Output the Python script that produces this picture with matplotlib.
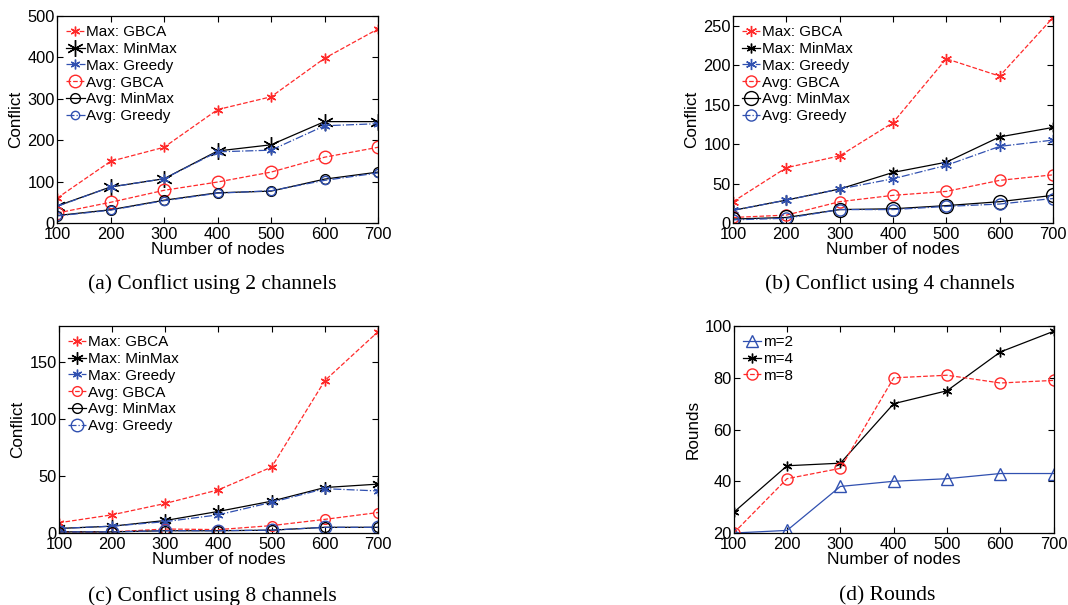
import numpy as np
import matplotlib
matplotlib.use("Agg")
import matplotlib.pyplot as plt

plt.rcParams['font.family'] = ['Liberation Sans', 'DejaVu Sans']
plt.rcParams['font.size'] = 11

nodes = [100, 200, 300, 400, 500, 600, 700]

# (a) 2 channels
a_max_gbca = [60, 149, 183, 274, 305, 398, 469]
a_max_minmax = [41, 87, 107, 174, 189, 245, 245]
a_max_greedy = [40, 87, 107, 172, 176, 235, 240]
a_avg_gbca = [24, 50, 79, 99, 123, 159, 183]
a_avg_minmax = [18, 32, 55, 73, 77, 106, 123]
a_avg_greedy = [17, 31, 54, 72, 78, 103, 121]

# (b) 4 channels
b_max_gbca = [27, 70, 85, 127, 208, 186, 260]
b_max_minmax = [16, 29, 43, 64, 77, 109, 121]
b_max_greedy = [16, 29, 43, 56, 73, 97, 105]
b_avg_gbca = [7, 10, 27, 35, 40, 54, 61]
b_avg_minmax = [5, 7, 17, 18, 22, 27, 35]
b_avg_greedy = [4, 6, 17, 17, 21, 24, 31]

# (c) 8 channels
c_max_gbca = [9, 16, 26, 38, 58, 134, 177]
c_max_minmax = [4, 6, 11, 19, 28, 40, 43]
c_max_greedy = [4, 6, 10, 16, 27, 39, 37]
c_avg_gbca = [1, 1, 3.5, 3, 6.5, 12, 18]
c_avg_minmax = [1, 1, 2, 2, 2.5, 5, 5]
c_avg_greedy = [1, 1, 2, 2, 2.5, 5, 5]

# (d) rounds
d_m2 = [20, 21, 38, 40, 41, 43, 43]
d_m4 = [28, 46, 47, 70, 75, 90, 98]
d_m8 = [20, 41, 45, 80, 81, 78, 79]

labels = ['Max: GBCA', 'Max: MinMax', 'Max: Greedy',
          'Avg: GBCA', 'Avg: MinMax', 'Avg: Greedy']

RED = '#ff2a2a'
BLUE = '#3050b0'
BLK = 'k'
AST = (6, 2, 0)


def conflict_panel(ax, series, sizes):
    styles = [(RED, '--', AST), (BLK, '-', AST), (BLUE, '-.', AST),
              (RED, '--', 'o'), (BLK, '-', 'o'), (BLUE, '-.', 'o')]
    for ys, (c, ls, m), ms, lab in zip(series, styles, sizes, labels):
        ax.plot(nodes, ys, color=c, ls=ls, marker=m, ms=ms, lw=0.9,
                mfc='none', mec=c, mew=1.0, label=lab)


def setting_axes(ax, ylim, yticks, ylabel):
    ax.set_xlim(100, 700)
    ax.set_ylim(*ylim)
    ax.set_xticks(nodes)
    ax.set_yticks(yticks)
    ax.tick_params(direction='in', top=True, right=True, length=4,
                   labelsize=11.8)
    ax.tick_params(axis='x', pad=3)
    ax.tick_params(axis='y', pad=1.5)
    ax.set_xlabel('Number of nodes', labelpad=0, fontsize=12.5)
    ax.set_ylabel(ylabel, labelpad=3, fontsize=12.3)
    for s in ax.spines.values():
        s.set_linewidth(0.9)
    ax.legend(loc='upper left', frameon=False, handlelength=1.2,
              handletextpad=0.1, labelspacing=0.18, borderaxespad=0.2,
              fontsize=11)


fig = plt.figure(figsize=(10.68, 6.05), dpi=100)

ax1 = fig.add_axes([0.0534, 0.6314, 0.3006, 0.342])
ax2 = fig.add_axes([0.6863, 0.6314, 0.2996, 0.342])
ax3 = fig.add_axes([0.0552, 0.119, 0.2987, 0.342])
ax4 = fig.add_axes([0.687, 0.119, 0.2996, 0.342])

conflict_panel(ax1, [a_max_gbca, a_max_minmax, a_max_greedy,
                     a_avg_gbca, a_avg_minmax, a_avg_greedy],
               [7, 12, 7, 9, 7, 6])
setting_axes(ax1, (0, 500), np.arange(0, 501, 100), 'Conflict')

conflict_panel(ax2, [b_max_gbca, b_max_minmax, b_max_greedy,
                     b_avg_gbca, b_avg_minmax, b_avg_greedy],
               [8, 7, 8, 8, 10, 8])
setting_axes(ax2, (0, 262), np.arange(0, 251, 50), 'Conflict')

conflict_panel(ax3, [c_max_gbca, c_max_minmax, c_max_greedy,
                     c_avg_gbca, c_avg_minmax, c_avg_greedy],
               [7, 9, 7, 7, 7, 9])
setting_axes(ax3, (0, 182), np.arange(0, 151, 50), 'Conflict')

ax4.plot(nodes, d_m2, color=BLUE, ls='-', marker='^', ms=8, lw=0.9,
         mfc='none', mec=BLUE, label='m=2')
ax4.plot(nodes, d_m4, color=BLK, ls='-', marker=AST, ms=7, lw=0.9,
         mfc='none', mec=BLK, label='m=4')
ax4.plot(nodes, d_m8, color=RED, ls='--', marker='o', ms=8, lw=0.9,
         mfc='none', mec=RED, label='m=8')
setting_axes(ax4, (20, 100), np.arange(20, 101, 20), 'Rounds')

cap = dict(family=['Liberation Serif', 'DejaVu Serif'], fontsize=15.5,
           ha='center', va='center')
fig.text(212 / 1068, 1 - 284 / 605, '(a) Conflict using 2 channels', **cap)
fig.text(890 / 1068, 1 - 284 / 605, '(b) Conflict using 4 channels', **cap)
fig.text(212 / 1068, 1 - 596 / 605, '(c) Conflict using 8 channels', **cap)
fig.text(887 / 1068, 1 - 596 / 605, '(d) Rounds', **cap)

fig.savefig('out.png', dpi=100)
